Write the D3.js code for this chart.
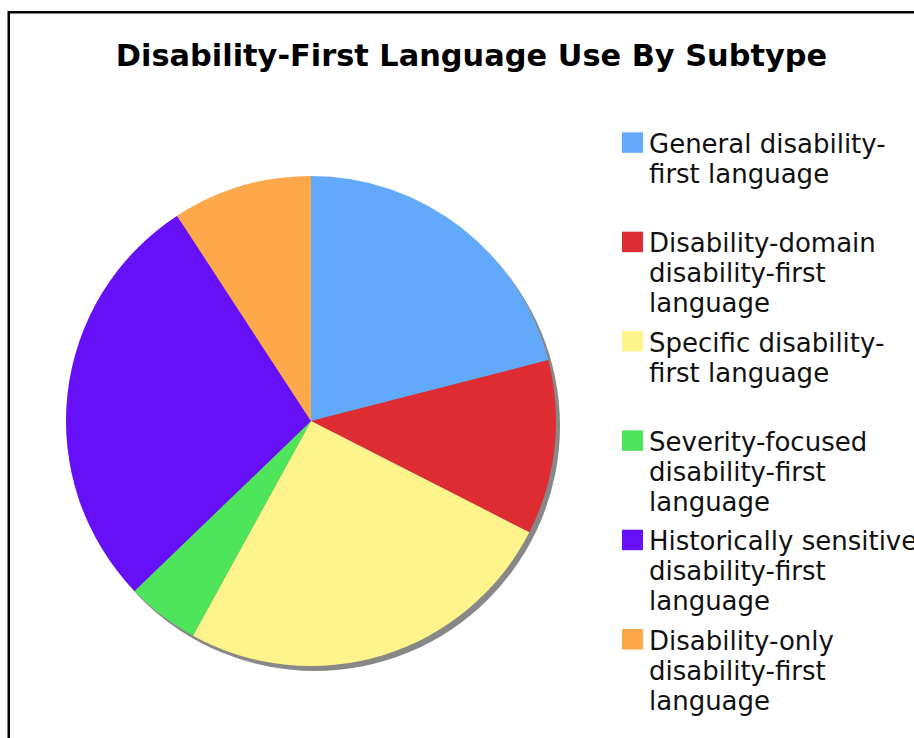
<!DOCTYPE html>
<html>
<head>
<meta charset="utf-8">
<script src="https://cdn.jsdelivr.net/npm/d3@7"></script>
<style>
  html, body { margin: 0; padding: 0; background: #fff; overflow: hidden; }
  svg { display: block; }
</style>
</head>
<body>
<svg id="chart" width="914" height="738"></svg>
<script>
// ---- data ----
const title = "Disability-First Language Use By Subtype";
const categories = [
  "General disability-\nfirst language",
  "Disability-domain\ndisability-first\nlanguage",
  "Specific disability-\nfirst language",
  "Severity-focused\ndisability-first\nlanguage",
  "Historically sensitive\ndisability-first\nlanguage",
  "Disability-only\ndisability-first\nlanguage"
];
const values = [21.0, 11.5, 25.5, 4.8, 28.0, 9.2];
const colors = ["#62a9fc", "#de2c33", "#fff38b", "#4fe55a", "#6610fa", "#fca84b"];

// ---- layout ----
const svg = d3.select("#chart");

svg.append("rect")
  .attr("x", 8.75).attr("y", 12.25)
  .attr("width", 1000).attr("height", 1000)
  .attr("fill", "#fff").attr("stroke", "#000").attr("stroke-width", 2.5);

svg.append("text")
  .attr("x", 471.5).attr("y", 66)
  .attr("text-anchor", "middle")
  .attr("font-family", "DejaVu Sans, Verdana, sans-serif")
  .attr("font-weight", "bold")
  .attr("font-size", 30.4)
  .attr("fill", "#000")
  .text(title);

const cx = 311, cy = 421, R = 245;

const pie = d3.pie().sort(null).value(d => d)(values);
const arc = d3.arc().innerRadius(0).outerRadius(R);

// shadow
svg.append("circle")
  .attr("cx", cx + 4).attr("cy", cy + 5).attr("r", R)
  .attr("fill", "#888");

const g = svg.append("g").attr("transform", `translate(${cx},${cy})`);
g.selectAll("path").data(pie).enter().append("path")
  .attr("d", arc)
  .attr("fill", (d, i) => colors[i]);

// legend
const legendX = 622, legendY0 = 132.3, step = 99.35, sw = 21;
const leg = svg.append("g");
categories.forEach((c, i) => {
  const y = legendY0 + i * step;
  leg.append("rect").attr("x", legendX).attr("y", y)
    .attr("width", sw).attr("height", 20.5).attr("fill", colors[i]);
  const t = leg.append("text")
    .attr("x", legendX + 27).attr("y", y + 20.5)
    .attr("font-family", "DejaVu Sans, Verdana, sans-serif")
    .attr("font-size", 26).attr("fill", "#111");
  c.split("\n").forEach((line, j) => {
    t.append("tspan").attr("x", legendX + 27).attr("y", y + 20.5 + j * 30).text(line);
  });
});
</script>
</body>
</html>
